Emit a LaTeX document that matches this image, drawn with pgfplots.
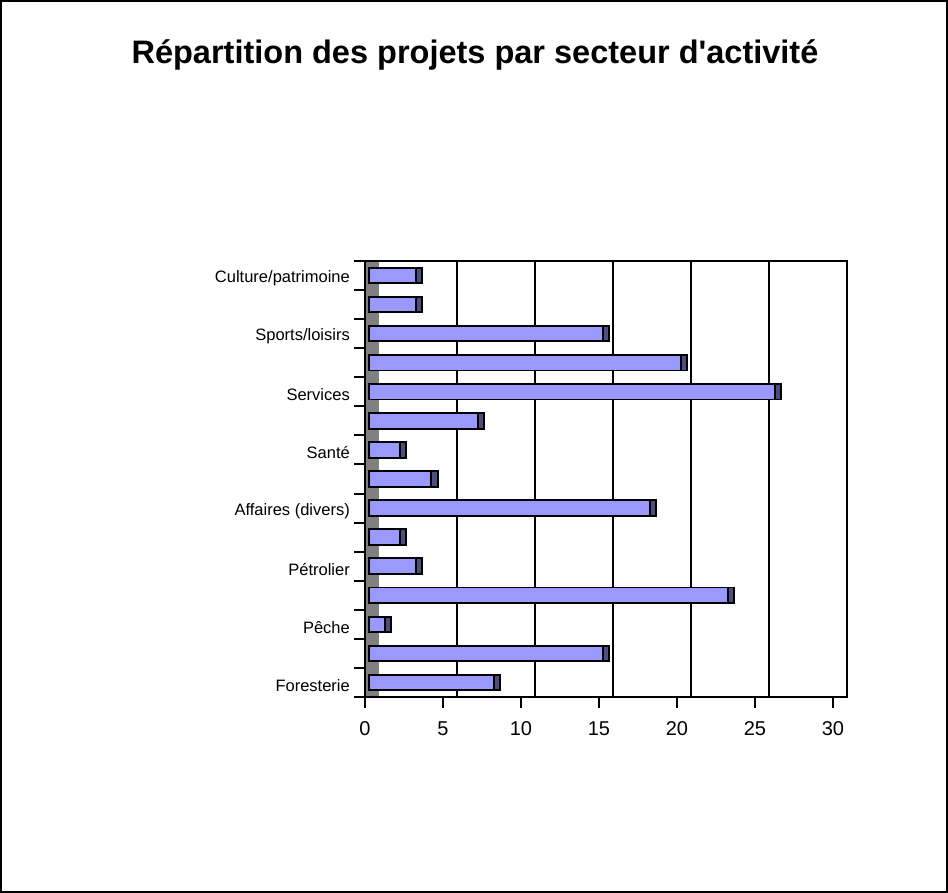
\documentclass[border=0pt]{standalone}
\usepackage{pgfplots}
\pgfplotsset{compat=1.18}
\usepackage{fontspec}
\setmainfont{Liberation Sans}
\definecolor{barfill}{RGB}{153,153,255}
\definecolor{barcap}{RGB}{77,77,128}
\definecolor{wall}{RGB}{128,128,128}
\pgfplotsset{chartbox/.style={
  at={(365pt,196pt)}, anchor=south west,
  scale only axis, width=482pt, height=436pt,
  xmin=0, xmax=30.9, ymin=-0.5, ymax=14.5, clip=false}}
\begin{document}
\begin{tikzpicture}[x=1pt,y=1pt]
\draw[line width=2pt] (1,1) rectangle (947,892);
\node[font=\fontsize{32.5}{38}\selectfont\bfseries] at (475,838) {Répartition des projets par secteur d\textquotesingle activité};
\begin{axis}[
  chartbox,
  axis line style={line width=2pt},
  xtick={0,5,...,30},
  ytick={-0.5,0.5,...,14.5}, yticklabels={},
  tick pos=left,
  tick align=outside, major tick length=11pt,
  tick style={line width=2pt, black},
  xticklabel style={font=\fontsize{20}{24}\selectfont, yshift=-10pt},
  /pgf/number format/assume math mode=true,
  extra x ticks={5.9,10.9,15.9,20.9,25.9},
  extra x tick labels={},
  extra x tick style={grid=major, major grid style={line width=2pt, black}, major tick length=0pt},
  extra y ticks={0,2,...,14},
  extra y tick labels={Foresterie,Pêche,Pétrolier,Affaires (divers),Santé,Services,Sports/loisirs,Culture/patrimoine},
  extra y tick style={major tick length=0pt, yticklabel style={font=\fontsize{16.5}{20}\selectfont, inner sep=0pt, xshift=-15pt, yshift=-3pt}},
]
\fill[wall] (axis cs:0.06,-0.48) rectangle (axis cs:0.9,14.48);
\end{axis}
\begin{axis}[
  chartbox, hide axis,
  xbar stacked, bar width=15.5pt,
]
\addplot[fill=barfill, draw=black, line width=1.9pt, xshift=4pt] coordinates {
(8,0) (15,1) (1,2) (23,3) (3,4) (2,5) (18,6) (4,7) (2,8) (7,9) (26,10) (20,11) (15,12) (3,13) (3,14)};
\addplot[fill=barcap, draw=black, line width=1.9pt, xshift=4pt] coordinates {
(0.4,0) (0.4,1) (0.4,2) (0.4,3) (0.4,4) (0.4,5) (0.4,6) (0.4,7) (0.4,8) (0.4,9) (0.4,10) (0.4,11) (0.4,12) (0.4,13) (0.4,14)};
\end{axis}
\end{tikzpicture}
\end{document}
